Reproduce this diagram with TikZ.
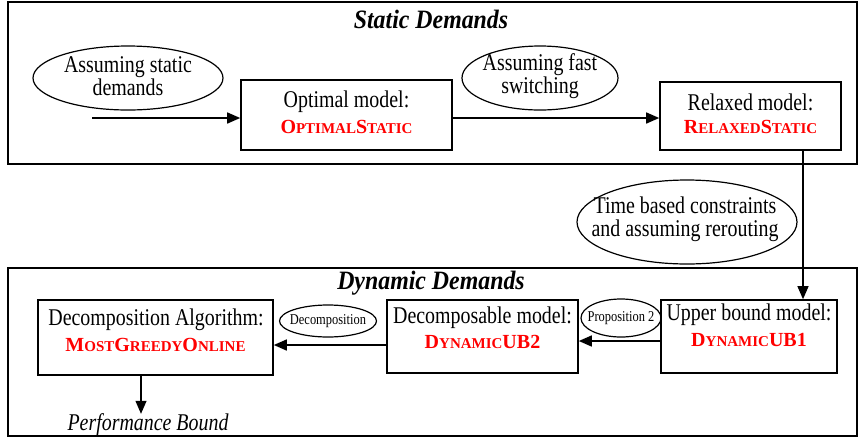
\documentclass[tikz,border=0pt]{standalone}
\usepackage{fontspec}
\setmainfont{Liberation Serif}
\newfontfamily\tallfont[FakeStretch=0.83]{Liberation Serif}
\newfontfamily\headfont[FakeStretch=0.9]{Liberation Serif}
\usetikzlibrary{arrows.meta,shapes.geometric}
\newcommand\SCap[2]{{\fontsize{20}{22}\selectfont #1}{\fontsize{15}{17}\selectfont #2}}
\begin{document}
\begin{tikzpicture}[x=1pt,y=-1pt,
  frame/.style={draw,line width=1.8pt},
  box/.style={draw,line width=1.6pt,inner sep=0pt},
  oval/.style={draw,ellipse,line width=1.2pt,inner sep=0pt},
  txt/.style={font=\tallfont\fontsize{24}{23}\selectfont,inner sep=0pt,align=center},
  red/.style={font=\bfseries,text=red,inner sep=0pt},
  head/.style={font=\headfont\fontsize{26.5}{28}\selectfont\bfseries\itshape,inner sep=0pt},
  small/.style={font=\tallfont\fontsize{15}{16}\selectfont,inner sep=0pt},
  arr/.style={line width=1.5pt,-{Triangle[length=13pt,width=11pt]}},
  thin/.style={line width=1.2pt,-{Triangle[length=13pt,width=11pt]}}]
\useasboundingbox (0,0) rectangle (859,440);
% frames
\node[frame,minimum width=849pt,minimum height=162pt,inner sep=0pt] (top) at (432.5,83) {};
\node[frame,minimum width=849pt,minimum height=168pt,inner sep=0pt] (bot) at (432.5,352) {};
\node[head] (hs) at (431,19) {Static Demands};
\node[head] (hd) at (431,283) {Dynamic Demands};
% static row
\node[oval,minimum width=190pt,minimum height=64pt] (e1) at (128,78) {};
\node[txt] (e1t) at (128,76) {Assuming static\\demands};
\node[box,minimum width=211pt,minimum height=70pt] (b1) at (346.5,115) {};
\node[txt] (b1t) at (346.5,102) {Optimal model:};
\node[red] (b1r) at (346.5,127) {\SCap{O}{PTIMAL}\SCap{S}{TATIC}};
\node[oval,minimum width=156pt,minimum height=64pt] (e2) at (540,78) {};
\node[txt] (e2t) at (540,76) {Assuming fast\\switching};
\node[box,minimum width=181pt,minimum height=68pt] (b2) at (750.5,116) {};
\node[txt] (b2t) at (750.5,102) {Relaxed model:};
\node[red] (b2r) at (750.5,127) {\SCap{R}{ELAXED}\SCap{S}{TATIC}};
\coordinate (s) at (92,118);
\draw[arr] (s) -- (b1.west |- s);
\draw[arr] (b1.east |- s) -- (b2.west |- s);
% transition
\node[oval,minimum width=220pt,minimum height=84pt] (e3) at (687,222) {};
\node[txt] (e3t) at (685,219) {Time based constraints\\and assuming rerouting};
% dynamic row
\node[box,minimum width=235pt,minimum height=75pt] (b3) at (155.5,337.5) {};
\node[txt] (b3t) at (156,320) {Decomposition Algorithm:};
\node[red] (b3r) at (155.5,345) {\SCap{M}{OST}\SCap{G}{REEDY}\SCap{O}{NLINE}};
\node[box,minimum width=191pt,minimum height=73pt] (b4) at (482.5,336.5) {};
\node[txt] (b4t) at (482.5,318) {Decomposable model:};
\node[red] (b4r) at (482.5,342) {\SCap{D}{YNAMIC}{\fontsize{20}{22}\selectfont UB2}};
\node[box,minimum width=176pt,minimum height=73pt] (b5) at (749,336.5) {};
\node[txt] (b5t) at (749,315) {Upper bound model:};
\node[red] (b5r) at (749,340) {\SCap{D}{YNAMIC}{\fontsize{20}{22}\selectfont UB1}};
\node[oval,minimum width=97pt,minimum height=32pt] (e4) at (328,321) {};
\node[small] (e4t) at (328,321) {Decomposition};
\node[oval,minimum width=80pt,minimum height=38pt] (e5) at (621,318) {};
\node[small] (e5t) at (621,318) {Proposition 2};
\coordinate (r1) at (0,341);
\coordinate (r2) at (0,345);
\draw[arr] (b5.west |- r1) -- (b4.east |- r1);
\draw[arr] (b4.west |- r2) -- (b3.east |- r2);
\coordinate (v) at (803,0);
\draw[thin] (b2.south -| v) -- (b5.north -| v);
\node[font=\tallfont\fontsize{24}{26}\selectfont\itshape,inner sep=0pt] (pb) at (148,425) {Performance Bound};
\coordinate (d) at (141,0);
\draw[thin] (b3.south -| d) -- (pb.north -| d);
\end{tikzpicture}
\end{document}
